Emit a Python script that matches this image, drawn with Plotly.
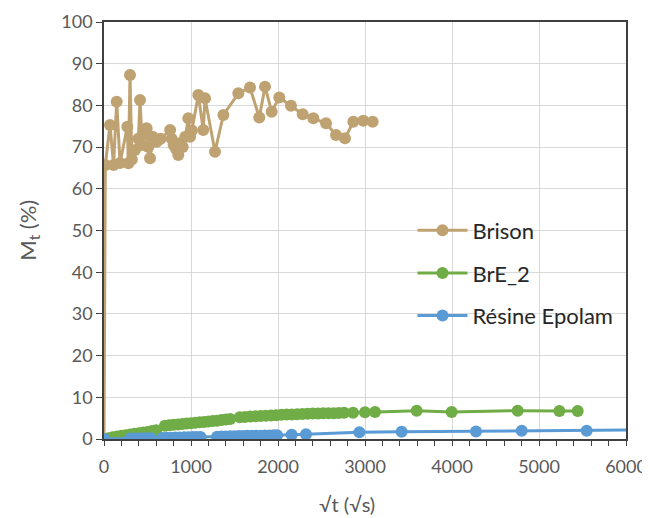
import plotly.graph_objects as go

# ---- data ----
brison_x = [0, 15, 69, 110, 146, 184, 268, 280, 299, 320, 356, 395, 414, 440, 470, 490,
            510, 529, 560, 606, 650, 760, 778, 800, 830, 854, 880, 905, 935, 969, 989,
            1010, 1084, 1141, 1161, 1276, 1372, 1544, 1678, 1785, 1851, 1927, 2015, 2149,
            2284, 2406, 2552, 2667, 2770, 2866, 2981, 3088]
brison_y = [0, 65.7, 75.3, 65.7, 80.9, 66.2, 74.9, 66.1, 87.3, 67.0, 69.3, 72.0, 81.3,
            70.5, 73.0, 74.5, 70.0, 67.3, 72.5, 71.3, 72.0, 74.1, 72.0, 70.5, 69.5, 68.1,
            71.0, 70.0, 72.5, 76.9, 72.5, 74.0, 82.5, 74.1, 81.7, 68.9, 77.7, 82.9, 84.3,
            77.1, 84.5, 78.5, 81.9, 79.9, 77.9, 76.9, 75.7, 72.9, 72.1, 76.1, 76.3, 76.1]

bre2_x = [0, 50, 100, 150, 200, 250, 300, 350, 400, 450, 500, 550, 600, 700, 750, 800,
          850, 900, 950, 1000, 1050, 1100, 1150, 1200, 1250, 1300, 1350, 1400, 1450,
          1560, 1620, 1680, 1740, 1800, 1860, 1920, 1980, 2040, 2100, 2160, 2220, 2280,
          2340, 2400, 2460, 2520, 2580, 2640, 2700, 2760, 2863, 3000, 3115, 3594, 3996,
          4755, 5234, 5445]
bre2_y = [0, 0.2, 0.4, 0.6, 0.8, 0.9, 1.1, 1.25, 1.4, 1.55, 1.7, 1.9, 2.1, 3.2, 3.3,
          3.4, 3.5, 3.6, 3.7, 3.8, 3.9, 4.0, 4.1, 4.2, 4.3, 4.4, 4.55, 4.7, 4.8, 5.2,
          5.3, 5.4, 5.45, 5.5, 5.6, 5.65, 5.7, 5.8, 5.85, 5.9, 5.95, 6.0, 6.05, 6.1,
          6.1, 6.15, 6.2, 6.2, 6.25, 6.3, 6.3, 6.4, 6.5, 6.8, 6.5, 6.8, 6.7, 6.7]

resine_x = [0, 300, 350, 420, 490, 540, 670, 720, 770, 820, 870, 920, 970, 1020, 1065,
            1110, 1300, 1350, 1400, 1450, 1500, 1550, 1600, 1650, 1700, 1750, 1800,
            1850, 1900, 1950, 1990, 2157, 2322, 2935, 3421, 4276, 4801, 5548, 6400]
resine_y = [0, 0.1, 0.1, 0.15, 0.15, 0.2, 0.25, 0.3, 0.3, 0.35, 0.35, 0.4, 0.4, 0.45,
            0.5, 0.5, 0.55, 0.6, 0.6, 0.65, 0.65, 0.7, 0.7, 0.75, 0.75, 0.8, 0.8, 0.85,
            0.85, 0.9, 0.9, 1.0, 1.15, 1.6, 1.75, 1.8, 2.0, 2.0, 2.2]

series_names = ["Brison", "BrE_2", "Résine Epolam"]
series_colors = ["#BFA271", "#70AD47", "#5B9BD5"]

x_ticks = [0, 1000, 2000, 3000, 4000, 5000, 6000]
y_ticks = [0, 10, 20, 30, 40, 50, 60, 70, 80, 90, 100]

FONT = "Lato, 'Open Sans', sans-serif"
AXIS_COL = "#404040"
TEXT_COL = "#595959"

fig = go.Figure()
for name, xs, ys, col in zip(series_names,
                             [brison_x, bre2_x, resine_x],
                             [brison_y, bre2_y, resine_y],
                             series_colors):
    fig.add_trace(go.Scatter(
        x=xs, y=ys, name=name, mode="lines+markers", legendgroup=name,
        line=dict(color=col, width=3),
        marker=dict(color=col, size=12, line=dict(width=0)),
        cliponaxis=True,
    ))

# empty helper trace so the label-only x axis (xaxis2) gets drawn
fig.add_trace(go.Scatter(x=[], y=[], xaxis="x2", yaxis="y", showlegend=False,
                         hoverinfo="skip", mode="markers"))

fig.update_layout(
    width=650, height=518,
    margin=dict(l=96, r=32, t=14, b=87, autoexpand=False),
    paper_bgcolor="white", plot_bgcolor="white",
    font=dict(family=FONT, size=18, color=TEXT_COL),
    showlegend=True,
    legend=dict(x=0.591, y=0.398, xanchor="left", yanchor="middle",
                bgcolor="rgba(0,0,0,0)", tracegroupgap=11,
                itemwidth=50, font=dict(size=22, color="#262626")),
    xaxis=dict(
        range=[0, 6000], tickvals=x_ticks, showticklabels=False,
        showgrid=True, gridcolor="#D9D9D9", gridwidth=1,
        showline=True, linecolor=AXIS_COL, linewidth=1.5, mirror=True,
        ticks="outside", ticklen=5, tickcolor=AXIS_COL,
        minor=dict(dtick=200, ticks="outside", ticklen=5, tickcolor=AXIS_COL, showgrid=False),
        automargin=False, zeroline=False,
    ),
    # label-only axis so the x tick labels sit a bit lower, as in the reference
    xaxis2=dict(
        overlaying="x", anchor="y", side="bottom",
        range=[0, 6000], tickvals=x_ticks, ticktext=[str(v) for v in x_ticks],
        showgrid=False, showline=False, zeroline=False,
        ticks="outside", ticklen=11, tickcolor="rgba(0,0,0,0)",
        tickfont=dict(size=18, color=TEXT_COL), automargin=False,
    ),
    yaxis=dict(
        range=[0, 100], tickvals=y_ticks, ticktext=[str(v) for v in y_ticks],
        ticksuffix="\u2002\u2009",
        showgrid=True, gridcolor="#D9D9D9", gridwidth=1,
        showline=True, linecolor=AXIS_COL, linewidth=1.5, mirror=True,
        ticks="outside", ticklen=6, tickcolor=AXIS_COL,
        tickfont=dict(size=18, color=TEXT_COL),
        automargin=False, zeroline=False,
    ),
    annotations=[
        dict(text="√t (√s)", xref="paper", yref="paper", x=0.466, y=-0.155,
             xanchor="center", yanchor="middle", showarrow=False,
             font=dict(size=20, color=TEXT_COL)),
        dict(text="M<sub>t</sub> (%)", xref="paper", yref="paper", x=-0.145, y=0.5,
             xanchor="center", yanchor="middle", showarrow=False, textangle=-90,
             font=dict(size=22, color=TEXT_COL)),
    ],
)

fig.write_html("out.html")
